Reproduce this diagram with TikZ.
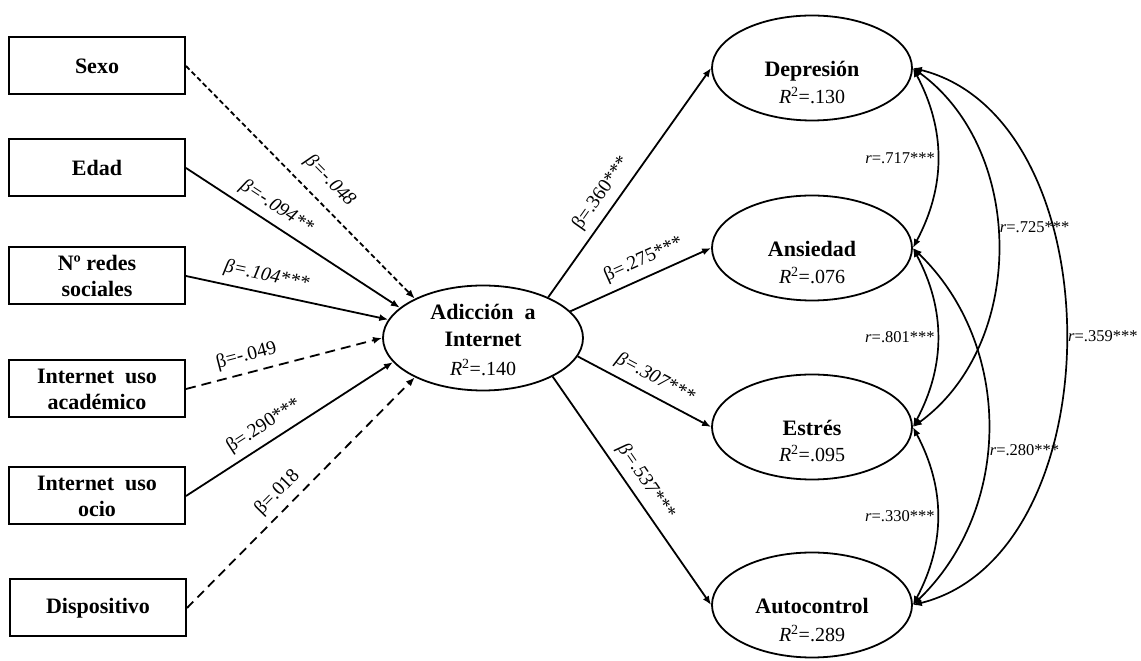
\documentclass[tikz,border=0pt]{standalone}
\usepackage{fontspec}
\setmainfont{Liberation Serif}
\usetikzlibrary{shapes.geometric,arrows.meta}

\newcommand{\rsq}[1]{\textit{R}\textsuperscript{2}=#1}

\begin{document}
\begin{tikzpicture}[x=1pt,y=1pt,
  >={Latex[length=9pt,width=7pt]},
  var/.style={draw,line width=2pt,minimum width=176pt,minimum height=57pt,inner sep=0pt,align=center,font=\fontsize{22}{26}\selectfont\bfseries},
  lat/.style={draw,ellipse,line width=1.8pt,minimum width=200pt,minimum height=105pt,inner sep=0pt},
  ttl/.style={anchor=base,inner sep=0pt,font=\fontsize{22}{26}\selectfont\bfseries},
  rsqlbl/.style={anchor=base,inner sep=0pt,font=\fontsize{20}{22}\selectfont},
  eff/.style={line width=1.8pt,->},
  coef/.style={sloped,above,inner sep=7pt,font=\fontsize{19.5}{21}\selectfont},
  corr/.style={line width=1.7pt,<->},
  rlbl/.style={inner sep=2pt,font=\fontsize{16.5}{18}\selectfont}
]
\useasboundingbox (0,0) rectangle (1141,661);

% predictores
\node[var] (sexo)  at (97,595) {Sexo};
\node[var] (edad)  at (97,493) {Edad};
\node[var] (redes) at (97,385) {Nº redes\\sociales};
\node[var] (acad)  at (97,272) {Internet\ \ uso\\académico};
\node[var] (ocio)  at (97,165) {Internet\ \ uso\\ocio};
\node[var] (disp)  at (98,53)  {Dispositivo};

% mediador
\node[lat] (adic) at (483,323) {};
\node[ttl] (adicA) at ([yshift=18pt]adic.center) {Adicción\ \ a};
\node[ttl] (adicB) at ([yshift=-9pt]adic.center) {Internet};
\node[rsqlbl] (adicR) at ([yshift=-38pt]adic.center) {\rsq{.140}};

% resultados
\node[lat] (dep)  at (812,593) {};
\node[lat] (ans)  at (812,413) {};
\node[lat] (est)  at (812,234) {};
\node[lat] (auto) at (812,56)  {};
\node[ttl] (depT)  at ([yshift=-9pt]dep.center)  {Depresión};
\node[ttl] (ansT)  at ([yshift=-9pt]ans.center)  {Ansiedad};
\node[ttl] (estT)  at ([yshift=-9pt]est.center)  {Estrés};
\node[ttl] (autoT) at ([yshift=-9pt]auto.center) {Autocontrol};
\node[rsqlbl] (depR)  at ([yshift=-36pt]dep.center)  {\rsq{.130}};
\node[rsqlbl] (ansR)  at ([yshift=-36pt]ans.center)  {\rsq{.076}};
\node[rsqlbl] (estR)  at ([yshift=-35pt]est.center)  {\rsq{.095}};
\node[rsqlbl] (autoR) at ([yshift=-37pt]auto.center) {\rsq{.289}};

% efectos sobre la adiccion
\draw[eff,dash pattern=on 5pt off 3pt] (sexo.east) -- (adic.150) node[coef,pos=.56,inner sep=12pt] {\itshape β=-.048};
\draw[eff] (edad.east) -- (adic.160) node[coef,pos=.38] {\itshape β=-.094**};
\draw[eff] (redes.east) -- (adic.169) node[coef,pos=.38] {\itshape β=.104***};
\draw[eff,dash pattern=on 10pt off 6pt] (acad.east) -- (adic.180) node[coef,pos=.33] {β=-.049};
\draw[eff] (ocio.east) -- (adic.195) node[coef,pos=.42] {β=.290***};
\draw[eff,dash pattern=on 9pt off 6pt] (disp.east) -- (adic.210) node[coef,pos=.45] {β=.018};

% efectos de la adiccion
\draw[eff] (adic.32) -- (dep.west) node[coef,pos=.41] {β=.360***};
\draw[eff] (adic.17) -- (ans.west) node[coef,pos=.57] {β=.275***};
\draw[eff] (adic.-11) -- (est.west) node[coef,pos=.52] {\itshape β=.307***};
\draw[eff] (adic.-29) -- (auto.west) node[coef,pos=.5] {\itshape β=.537***};

% correlaciones
\draw[corr] (dep.east) to[bend left=28] node[rlbl,left] {\textit{r}=.717***} (ans.east);
\draw[corr] (ans.east) to[bend left=28] node[rlbl,left] {\textit{r}=.801***} (est.east);
\draw[corr] (est.east) to[bend left=28] node[rlbl,left] {\textit{r}=.330***} (auto.east);
\draw[corr] (dep.east) to[bend left=54] node[rlbl,right,pos=.45] {\textit{r}=.725***} (est.east);
\draw[corr] (ans.east) to[bend left=46] node[rlbl,right,pos=.56] {\textit{r}=.280***} (auto.east);
\draw[corr] (dep.east) to[bend left=76] node[rlbl,right] {\textit{r}=.359***} (auto.east);
\end{tikzpicture}
\end{document}
